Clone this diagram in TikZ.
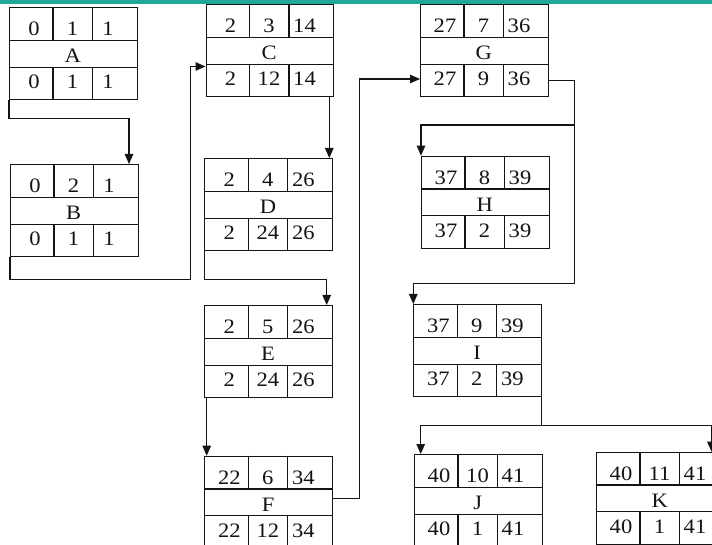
\documentclass[tikz,border=0pt]{standalone}
\usepackage{fontspec}
\setmainfont{Liberation Serif}[FakeStretch=1.1]
\usetikzlibrary{calc,arrows.meta}
\definecolor{topbar}{RGB}{35,166,154}
\definecolor{ink}{RGB}{20,20,20}
\tikzset{
  taskbox/.style={draw=ink,line width=1.1pt,rectangle,anchor=north west,inner sep=0pt,
    minimum width=127.5pt,minimum height=92pt},
  grid/.style={draw=ink,line width=1.1pt},
  txt/.style={anchor=base,inner sep=0pt,font=\fontsize{20.5}{20.5}\selectfont,text=ink},
  arr/.style={draw=ink,line width=1.1pt,-{Triangle[length=10pt,width=8.5pt]}},
  link/.style={draw=ink,line width=1.1pt}
}
\newcommand\tbox[9]{%
  \node[taskbox] (#1) at #2 {};
  \draw[grid] ($(#1.north west)+(0,33.3)$) -- ++(127.5,0);
  \draw[grid] ($(#1.north west)+(0,60.1)$) -- ++(127.5,0);
  \draw[grid] ($(#1.north west)+(44,0)$) -- ++(0,33.3);
  \draw[grid] ($(#1.north west)+(83.5,0)$) -- ++(0,33.3);
  \draw[grid] ($(#1.north west)+(44,60.1)$) -- ++(0,31.9);
  \draw[grid] ($(#1.north west)+(83.5,60.1)$) -- ++(0,31.9);
  \node[txt] at ($(#1.north west)+(25,28.5)$) {#3};
  \node[txt] at ($(#1.north west)+(63.5,28.5)$) {#4};
  \node[txt] at ($(#1.north west)+(99,28.5)$) {#5};
  \node[txt] at ($(#1.north west)+(63.75,55.5)$) {#6};
  \node[txt] at ($(#1.north west)+(25,81.5)$) {#7};
  \node[txt] at ($(#1.north west)+(63.5,81.5)$) {#8};
  \node[txt] at ($(#1.north west)+(99,81.5)$) {#9};
}
\begin{document}
\begin{tikzpicture}[x=1pt,y=-1pt]
\useasboundingbox (0,0) rectangle (712,545);
\clip (0,0) rectangle (712,545);
\fill[white] (0,0) rectangle (712,545);
\fill[topbar] (0,0) rectangle (712,3.7);

\tbox{A}{(9,7)}{0}{1}{1}{A}{0}{1}{1}
\tbox{B}{(10,164)}{0}{2}{1}{B}{0}{1}{1}
\tbox{C}{(205.5,4)}{2}{3}{14}{C}{2}{12}{14}
\tbox{D}{(204.3,158)}{2}{4}{26}{D}{2}{24}{26}
\tbox{E}{(204.3,305)}{2}{5}{26}{E}{2}{24}{26}
\tbox{F}{(204.3,455.7)}{22}{6}{34}{F}{22}{12}{34}
\tbox{G}{(420,4)}{27}{7}{36}{G}{27}{9}{36}
\tbox{H}{(421,155.7)}{37}{8}{39}{H}{37}{2}{39}
\tbox{I}{(413.3,304)}{37}{9}{39}{I}{37}{2}{39}
\tbox{J}{(414,454)}{40}{10}{41}{J}{40}{1}{41}
\tbox{K}{(596,451.7)}{40}{11}{41}{K}{40}{1}{41}

\coordinate (cOut) at ($(C.south west)+(123.8,0)$);
\coordinate (eOut) at ($(E.south west)+(2.4,0)$);

% A -> B
\draw[arr] (A.south west) -- ++(0,18) -| ($(B.north west)+(119,0)$);
% B -> C
\draw[arr] (B.south west) -- ++(0,22) -| ($(C.north west)+(-15,62.5)$) -- ($(C.north west)+(0,62.5)$);
% C -> D
\draw[arr] (cOut) -- (cOut |- D.north);
% D -> E
\draw[arr] (D.south west) -- ++(0,28.4) -| ($(E.north west)+(122.4,0)$);
% E -> F
\draw[arr] (eOut) -- (eOut |- F.north);
% F -> G
\draw[arr] ($(F.north east)+(0,42.6)$) -- ++(26.6,0) |- ($(G.north west)+(0,75)$);
% G -> H, G -> I
\draw[arr] ($(G.north east)+(0,76.7)$) -- ++(25.6,0) |- ($(I.north west)+(0,-20.7)$) -- (I.north west);
\draw[arr] ($(G.north east)+(25.6,76.7)$) |- ($(H.north west)+(0,-30.7)$) -- (H.north west);
% I -> J, I -> K
\draw[arr] (I.south east) -- ++(0,28.3) -| ($(J.north west)+(6.7,0)$);
\draw[arr] (I.south east) -- ++(0,28.3) -| ($(K.north west)+(115.5,0)$);
\end{tikzpicture}
\end{document}
